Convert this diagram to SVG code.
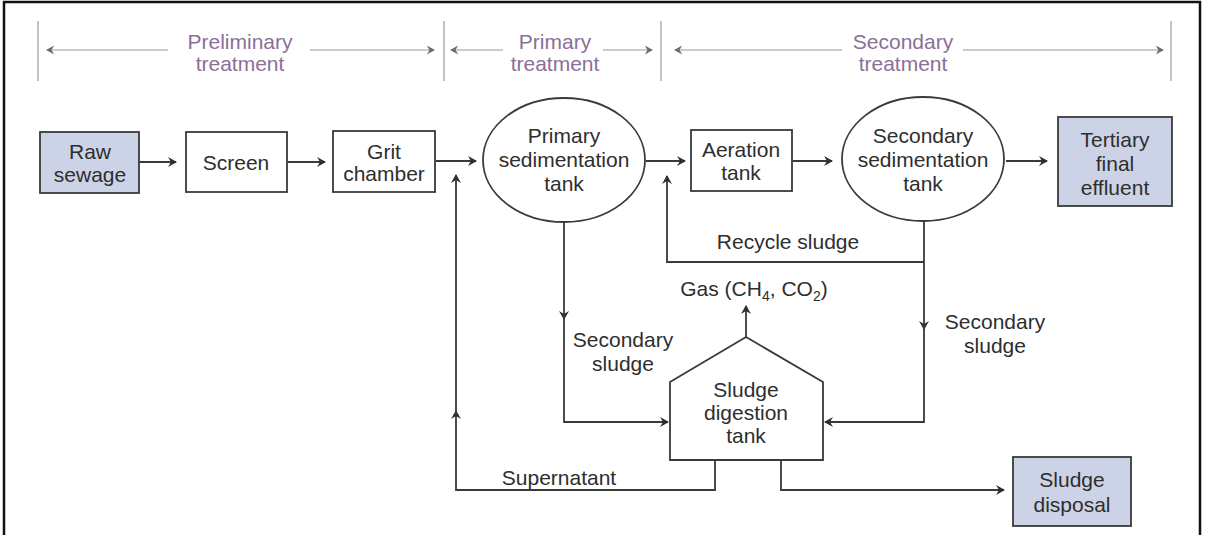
<svg xmlns="http://www.w3.org/2000/svg" width="1205" height="535" viewBox="0 0 1205 535">
<style>
  text { font-family: "Liberation Sans", Arial, sans-serif; font-size: 21px; fill: #2e2e2e; text-anchor: middle; }
  .phase { fill: #8a6f98; }
  .pl { stroke: #9a9a9a; stroke-width: 1.2; fill: none; }
  .c { stroke: #3a3a3a; stroke-width: 1.8; fill: none; }
  .box { fill: #ffffff; stroke: #3a3a3a; stroke-width: 1.8; }
  .hl { fill: #cdd3e6; stroke: #3a3a3a; stroke-width: 1.8; }
</style>
<defs>
  <marker id="ah" viewBox="0 0 10 10" refX="9" refY="5" markerWidth="10" markerHeight="10" markerUnits="userSpaceOnUse" orient="auto-start-reverse">
    <path d="M1,0 L10,5 L1,10 L4,5 z" fill="#2e2e2e"/>
  </marker>
  <marker id="ahp" viewBox="0 0 10 10" refX="9" refY="5" markerWidth="9" markerHeight="9" markerUnits="userSpaceOnUse" orient="auto-start-reverse">
    <path d="M1,0 L10,5 L1,10 L4,5 z" fill="#6a6a6a"/>
  </marker>
</defs>
<rect x="0" y="0" width="1205" height="535" fill="#ffffff"/>
<path d="M4,540 V2 H1200 V540" fill="none" stroke="#111" stroke-width="2.5"/>

<g id="phases">
  <line class="pl" x1="38" y1="21" x2="38" y2="81"/>
  <line class="pl" x1="444" y1="21" x2="444" y2="81"/>
  <line class="pl" x1="661" y1="21" x2="661" y2="81"/>
  <line class="pl" x1="1171" y1="21" x2="1171" y2="81"/>
  <line class="pl" x1="47" y1="50" x2="168" y2="50" marker-start="url(#ahp)"/>
  <line class="pl" x1="310" y1="50" x2="434" y2="50" marker-end="url(#ahp)"/>
  <line class="pl" x1="451" y1="50" x2="503" y2="50" marker-start="url(#ahp)"/>
  <line class="pl" x1="603" y1="50" x2="652" y2="50" marker-end="url(#ahp)"/>
  <line class="pl" x1="675" y1="50" x2="842" y2="50" marker-start="url(#ahp)"/>
  <line class="pl" x1="963" y1="50" x2="1163" y2="50" marker-end="url(#ahp)"/>
  <text class="phase" x="240" y="49">Preliminary</text>
  <text class="phase" x="240" y="71">treatment</text>
  <text class="phase" x="555" y="49">Primary</text>
  <text class="phase" x="555" y="71">treatment</text>
  <text class="phase" x="903" y="49">Secondary</text>
  <text class="phase" x="903" y="71">treatment</text>
</g>

<g id="connectors">
  <line class="c" x1="139" y1="162" x2="176" y2="162" marker-end="url(#ah)"/>
  <line class="c" x1="288" y1="162" x2="325" y2="162" marker-end="url(#ah)"/>
  <line class="c" x1="436" y1="161" x2="476" y2="161" marker-end="url(#ah)"/>
  <line class="c" x1="646" y1="161" x2="685" y2="161" marker-end="url(#ah)"/>
  <line class="c" x1="793" y1="161" x2="832" y2="161" marker-end="url(#ah)"/>
  <line class="c" x1="1006" y1="161" x2="1047" y2="161" marker-end="url(#ah)"/>
  <!-- recycle -->
  <path class="c" d="M924,262 H667 V176" marker-end="url(#ah)"/>
  <!-- primary sludge down -->
  <line class="c" x1="564" y1="222" x2="564" y2="319" marker-end="url(#ah)"/>
  <path class="c" d="M564,315 V422 H668" marker-end="url(#ah)"/>
  <!-- secondary sludge down -->
  <line class="c" x1="924" y1="221" x2="924" y2="329" marker-end="url(#ah)"/>
  <path class="c" d="M924,325 V422 H825" marker-end="url(#ah)"/>
  <!-- gas -->
  <line class="c" x1="746" y1="337" x2="746" y2="306" marker-end="url(#ah)"/>
  <!-- supernatant -->
  <path class="c" d="M715,460 V490 H456 V411" marker-end="url(#ah)"/>
  <line class="c" x1="456" y1="415" x2="456" y2="175" marker-end="url(#ah)"/>
  <!-- disposal -->
  <path class="c" d="M781,460 V490 H1004" marker-end="url(#ah)"/>
  <text x="788" y="249">Recycle sludge</text>
  <text x="754" y="296">Gas (CH<tspan font-size="14" dy="5">4</tspan><tspan dy="-5">, CO</tspan><tspan font-size="14" dy="5">2</tspan><tspan dy="-5">)</tspan></text>
  <text x="623" y="347">Secondary</text>
  <text x="623" y="371">sludge</text>
  <text x="995" y="329">Secondary</text>
  <text x="995" y="353">sludge</text>
  <text x="559" y="485">Supernatant</text>
</g>

<g id="raw-sewage">
  <rect class="hl" x="40" y="132" width="99" height="61"/>
  <text x="90" y="159">Raw</text>
  <text x="90" y="182">sewage</text>
</g>
<g id="screen">
  <rect class="box" x="186" y="132" width="101" height="60"/>
  <text x="236" y="170">Screen</text>
</g>
<g id="grit-chamber">
  <rect class="box" x="333" y="131" width="102" height="61"/>
  <text x="384" y="159">Grit</text>
  <text x="384" y="181">chamber</text>
</g>
<g id="primary-sedimentation-tank">
  <ellipse class="box" cx="564" cy="160" rx="81" ry="62"/>
  <text x="564" y="143">Primary</text>
  <text x="564" y="167">sedimentation</text>
  <text x="564" y="191">tank</text>
</g>
<g id="aeration-tank">
  <rect class="box" x="691" y="130" width="101" height="61"/>
  <text x="741" y="157">Aeration</text>
  <text x="741" y="180">tank</text>
</g>
<g id="secondary-sedimentation-tank">
  <ellipse class="box" cx="923" cy="159" rx="81" ry="62"/>
  <text x="923" y="143">Secondary</text>
  <text x="923" y="167">sedimentation</text>
  <text x="923" y="191">tank</text>
</g>
<g id="tertiary-final-effluent">
  <rect class="hl" x="1058" y="117" width="114" height="89"/>
  <text x="1115" y="147">Tertiary</text>
  <text x="1115" y="171">final</text>
  <text x="1115" y="195">effluent</text>
</g>
<g id="sludge-digestion-tank">
  <path class="box" d="M670,460 V382 L746,337 L823,382 V460 Z"/>
  <text x="746" y="397">Sludge</text>
  <text x="746" y="420">digestion</text>
  <text x="746" y="443">tank</text>
</g>
<g id="sludge-disposal">
  <rect class="hl" x="1013" y="457" width="118" height="69"/>
  <text x="1072" y="487">Sludge</text>
  <text x="1072" y="512">disposal</text>
</g>
</svg>
